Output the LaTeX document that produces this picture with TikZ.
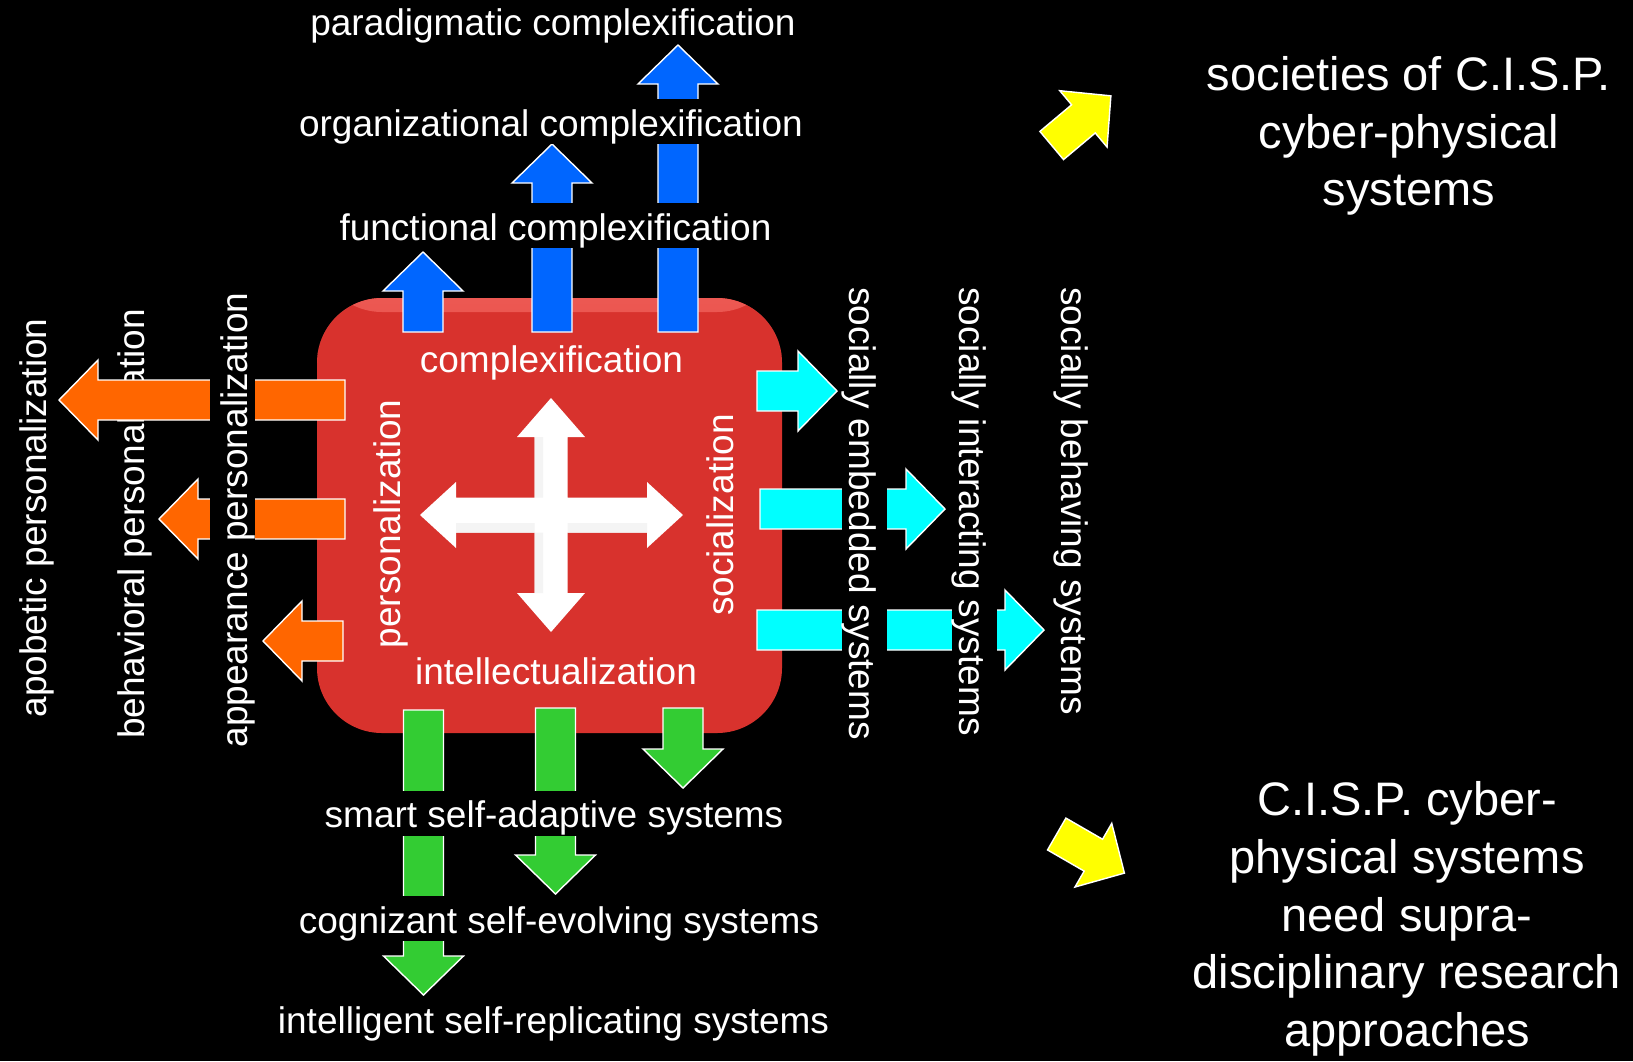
\documentclass[tikz,border=0pt]{standalone}
\usepackage{fontspec}
\setmainfont{Liberation Sans}
\usetikzlibrary{calc}

\definecolor{boxred}{RGB}{216,50,45}
\definecolor{boxrim}{RGB}{236,88,82}
\definecolor{cxblue}{RGB}{0,102,255}
\definecolor{cxgreen}{RGB}{51,204,51}
\definecolor{cxorange}{RGB}{255,102,0}
\definecolor{cxcyan}{RGB}{0,255,255}
\definecolor{cxyellow}{RGB}{255,255,0}

\tikzset{
	lbl/.style={text=white, inner sep=0pt, font=\fontsize{18.5pt}{22pt}\selectfont, text height=18.5pt, text depth=4pt},
	cut/.style={lbl, fill=black},
	big/.style={text=white, align=center, inner sep=0pt, font=\fontsize{23.5pt}{28.8pt}\selectfont},
	barrow/.style={draw=white, line width=0.7pt, line join=miter, fill=#1},
}

% colour, tail, angle, length
\newcommand{\blockarrow}[5][1]{%
	\draw[barrow=#2, shift={#3}, rotate=#4, scale=#1] (0,-20) -- ({#5-39},-20) -- ({#5-39},-40) -- (#5,0) -- ({#5-39},40) -- ({#5-39},20) -- (0,20) -- cycle;}

\begin{document}
\begin{tikzpicture}[x=0.5pt, y=-0.5pt]
			\useasboundingbox (0,0) rectangle (1633,1061);
			\fill[black] (0,0) rectangle (1633,1061);
			%	\draw[very thin,densely dashed,gray] (0,0) grid[step=100] (1633,1061);
			\node (core) [fill=boxred, rounded corners=32.5pt, minimum width=232.5pt, minimum height=217.5pt,
				path picture={\shade[top color=boxrim, bottom color=boxred] (path picture bounding box.north west) rectangle ([yshift=-7pt]path picture bounding box.north east);}] at (549.5,515.5) {};
			\fill[white, shift={(551,515)}] (0,-117) -- (34,-78) -- (16.5,-78) -- (16.5,-17.5) -- (96,-17.5) -- (96,-33) -- (132,0) -- (96,33) -- (96,17.5) -- (16.5,17.5) -- (16.5,78) -- (34,78) -- (0,117) -- (-34,78) -- (-16.5,78) -- (-16.5,17.5) -- (-95,17.5) -- (-95,33) -- (-131,0) -- (-95,-33) -- (-95,-17.5) -- (-16.5,-17.5) -- (-16.5,-78) -- (-34,-78) -- cycle;
			\fill[gray!9, shift={(551,515)}] (-16.5,-78) rectangle (-8,-17.5) (-16.5,17.5) rectangle (-8,78) (-95,8) rectangle (-16.5,17.5) (16.5,8) rectangle (96,17.5);
			\node[lbl, rotate=90] (behav) at (129.5,524) {behavioral personalization};
			% complexification
			\blockarrow{cxblue}{(423,332)}{90}{80}
			\blockarrow{cxblue}{(552,332)}{90}{188}
			\blockarrow{cxblue}{(678,332)}{90}{287}
			% intellectualization
			\blockarrow{cxgreen}{(423.5,710)}{-90}{285}
			\blockarrow{cxgreen}{(555.5,708)}{-90}{186}
			\blockarrow{cxgreen}{(683,708)}{-90}{80}
			% personalization
			\blockarrow{cxorange}{(345,400)}{180}{286}
			\blockarrow{cxorange}{(345,519)}{180}{186}
			\blockarrow{cxorange}{(343,641)}{180}{80}
			% socialization
			\blockarrow{cxcyan}{(757,391)}{0}{80}
			\blockarrow{cxcyan}{(760,509)}{0}{185}
			\blockarrow{cxcyan}{(757,630)}{0}{287}
			\node[cut] (paradigm) at (553,21) {paradigmatic complexification};
			\node[cut] (organiz) at (551,121.5) {organizational complexification};
			\node[cut] (function) at (555.5,225.5) {functional complexification};
			\node[cut] (smart) at (554,813) {smart self-adaptive systems};
			\node[cut] (cognizant) at (559,918.5) {cognizant self-evolving systems};
			\node[cut] (intellig) at (553.5,1019) {intelligent self-replicating systems};
			\node[cut, rotate=90] (apobetic) at (32,518) {apobetic personalization};
			\node[cut, rotate=90] (appear) at (232.5,520) {appearance personalization};
			\node[cut, rotate=-90, anchor=west] (embedded) at (864,287) {socially embedded systems};
			\node[cut, rotate=-90, anchor=west] (interact) at (974,287) {socially interacting systems};
			\node[cut, rotate=-90, anchor=west] (behaving) at (1076,287) {socially behaving systems};
			\node[lbl] (complex) at (551.5,357.5) {complexification};
			\node[lbl] (intell) at (556,669.5) {intellectualization};
			\node[lbl, rotate=90] (person) at (385.5,524) {personalization};
			\node[lbl, rotate=90] (social) at (718.5,515) {socialization};
			\blockarrow[0.92]{cxyellow}{(1051.7,145.5)}{40}{84}
			\blockarrow[0.92]{cxyellow}{(1056.7,834)}{-30}{85}
			\node[big] (societies) at (1409,136) {societies of C.I.S.P.\\cyber-physical\\systems};
			\node[big] (supra) at (1407,919) {C.I.S.P. cyber-\\physical systems\\need supra-\\disciplinary research\\approaches};
		\end{tikzpicture}
\end{document}
